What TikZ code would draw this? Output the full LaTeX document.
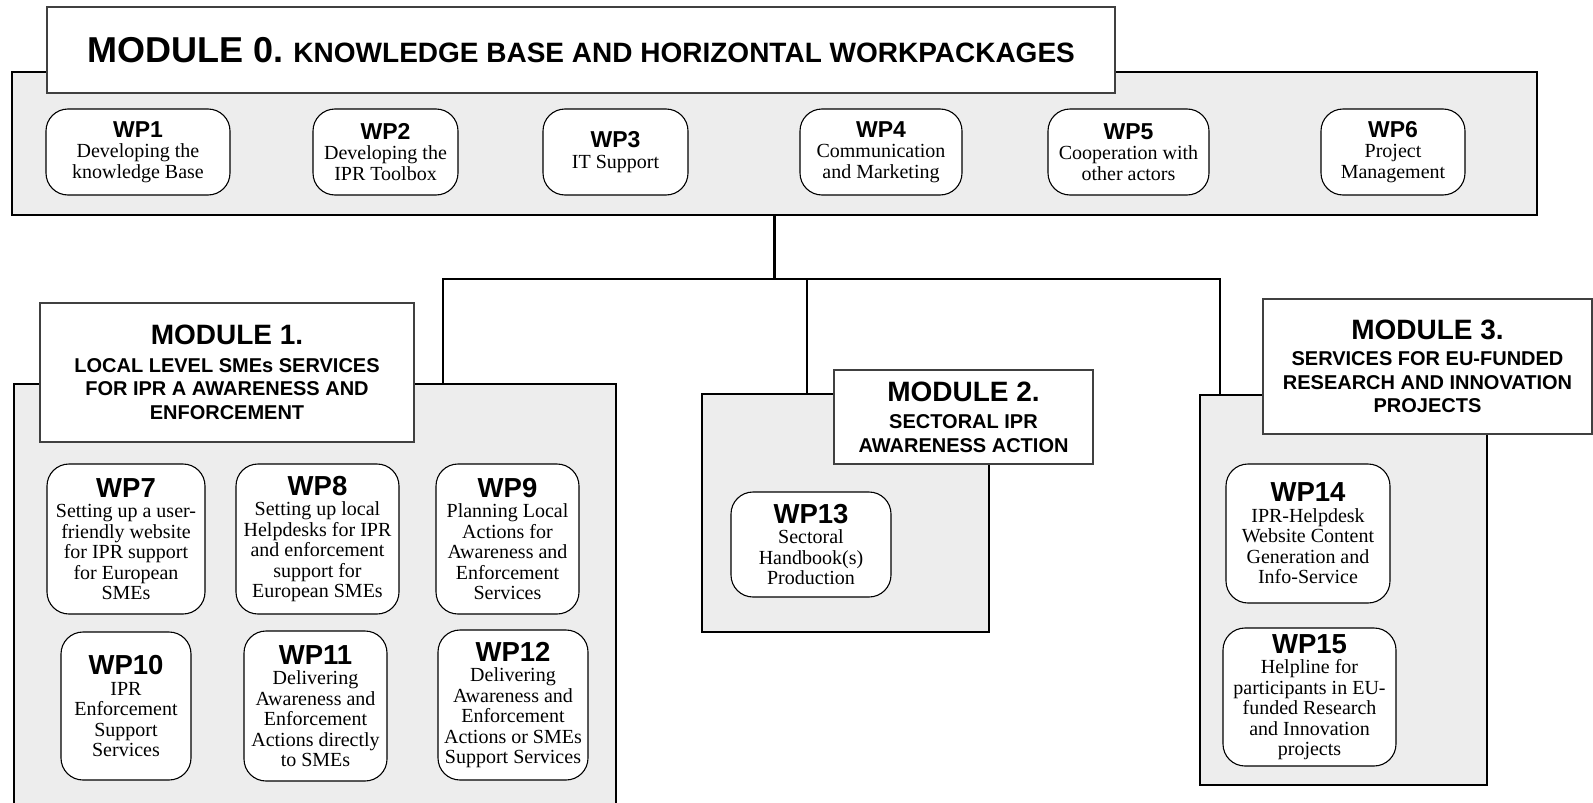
\documentclass[tikz,border=0pt]{standalone}
\usepackage{fontspec}
\setmainfont{Liberation Serif}
\newfontfamily\headfont{Liberation Sans}

\newcommand{\wplabel}[2][23]{{\headfont\bfseries\fontsize{#1}{#1}\selectfont #2}}
\newcommand{\modlabel}[2][28]{{\fontsize{#1}{#1}\selectfont #2}}

\begin{document}
\begin{tikzpicture}[x=1pt,y=-1pt,
      module/.style={draw=black,line width=2.5pt,fill=black!7,inner sep=0pt},
      titlebox/.style={draw=black!75,line width=1.2pt,fill=white,align=center,inner sep=0pt,
        font=\headfont\bfseries\fontsize{20}{23.5}\selectfont},
      wp/.style={draw=black,line width=1.1pt,fill=white,rounded corners=22pt,align=center,
        inner sep=0pt,font=\fontsize{20}{20.5}\selectfont},
      link/.style={line width=2.5pt}]
			\clip (0,0) rectangle (1593,803);
			% module 0
			\node[module,minimum width=1525,minimum height=143] (m0) at (774.5,143.5) {};
			\node[titlebox,minimum width=1068,minimum height=86,font=\headfont\bfseries\fontsize{28}{28}\selectfont] (t0) at (581,50)
				{\modlabel[36]{MODULE 0.} KNOWLEDGE BASE AND HORIZONTAL WORKPACKAGES};
			\node[wp,minimum width=184,minimum height=86] (wp1) at (138,152) {\wplabel{WP1}\\Developing the\\knowledge Base};
			\node[wp,minimum width=145,minimum height=86] (wp2) at (385.5,152) {\wplabel{WP2}\\Developing the\\IPR Toolbox};
			\node[wp,minimum width=145,minimum height=86] (wp3) at (615.5,152) {\wplabel{WP3}\\IT Support};
			\node[wp,minimum width=162,minimum height=86] (wp4) at (881,152) {\wplabel{WP4}\\Communication\\and Marketing};
			\node[wp,minimum width=161,minimum height=86] (wp5) at (1128.5,152) {\wplabel{WP5}\\Cooperation with\\other actors};
			\node[wp,minimum width=144,minimum height=86] (wp6) at (1393,152) {\wplabel{WP6}\\Project\\Management};
			% module 1
			\node[module,minimum width=602,minimum height=431] (m1) at (315,599.5) {};
			\node[titlebox,minimum width=374,minimum height=139] (t1) at (227,372.5)
				{\modlabel{MODULE 1.}\\[4pt]LOCAL LEVEL SMEs SERVICES\\FOR IPR A AWARENESS AND\\ENFORCEMENT};
			\node[wp,minimum width=158,minimum height=150] (wp7) at (126,539) {\wplabel[27.5]{WP7}\\Setting up a user-\\friendly website\\for IPR support\\for European\\SMEs};
			\node[wp,minimum width=163,minimum height=150] (wp8) at (317.5,539) {\wplabel[27.5]{WP8}\\Setting up local\\Helpdesks for IPR\\and enforcement\\support for\\European SMEs};
			\node[wp,minimum width=143,minimum height=150] (wp9) at (507.5,539) {\wplabel[27.5]{WP9}\\Planning Local\\Actions for\\Awareness and\\Enforcement\\Services};
			\node[wp,minimum width=130,minimum height=148] (wp10) at (126,706) {\wplabel[27.5]{WP10}\\IPR\\Enforcement\\Support\\Services};
			\node[wp,minimum width=143,minimum height=150] (wp11) at (315.5,706) {\wplabel[27.5]{WP11}\\Delivering\\Awareness and\\Enforcement\\Actions directly\\to SMEs};
			\node[wp,minimum width=150,minimum height=150] (wp12) at (513,705) {\wplabel[27.5]{WP12}\\Delivering\\Awareness and\\Enforcement\\Actions or SMEs\\Support Services};
			% module 2
			\node[module,minimum width=287,minimum height=238] (m2) at (845.5,513) {};
			\node[titlebox,minimum width=259,minimum height=94] (t2) at (963.5,417)
				{\modlabel{MODULE 2.}\\[4pt]SECTORAL IPR\\AWARENESS ACTION};
			\node[wp,minimum width=160,minimum height=105] (wp13) at (811,544.5) {\wplabel[27.5]{WP13}\\Sectoral\\Handbook(s)\\Production};
			% module 3
			\node[module,minimum width=287,minimum height=390] (m3) at (1343.5,590) {};
			\node[titlebox,minimum width=329,minimum height=135] (t3) at (1427.5,366.5)
				{\modlabel{MODULE 3.}\\[3pt]SERVICES FOR EU-FUNDED\\RESEARCH AND INNOVATION\\PROJECTS};
			\node[wp,minimum width=164,minimum height=139] (wp14) at (1308,533.5) {\wplabel[27.5]{WP14}\\IPR-Helpdesk\\Website Content\\Generation and\\Info-Service};
			\node[wp,minimum width=173,minimum height=138] (wp15) at (1309.5,697) {\wplabel[27.5]{WP15}\\Helpline for\\participants in EU-\\funded Research\\and Innovation\\projects};
			% tree of links
			\coordinate (d1) at (443,279);
			\coordinate (d2) at (807,279);
			\coordinate (d3) at (1220,279);
			\draw[link] (m0.south) -- (m0.south |- d1);
			\draw[link] (d1 |- m1.north) -- (d1) -- (d3) -- (d3 |- m3.north);
			\draw[link] (d2) -- (d2 |- m2.north);
		\end{tikzpicture}
\end{document}
